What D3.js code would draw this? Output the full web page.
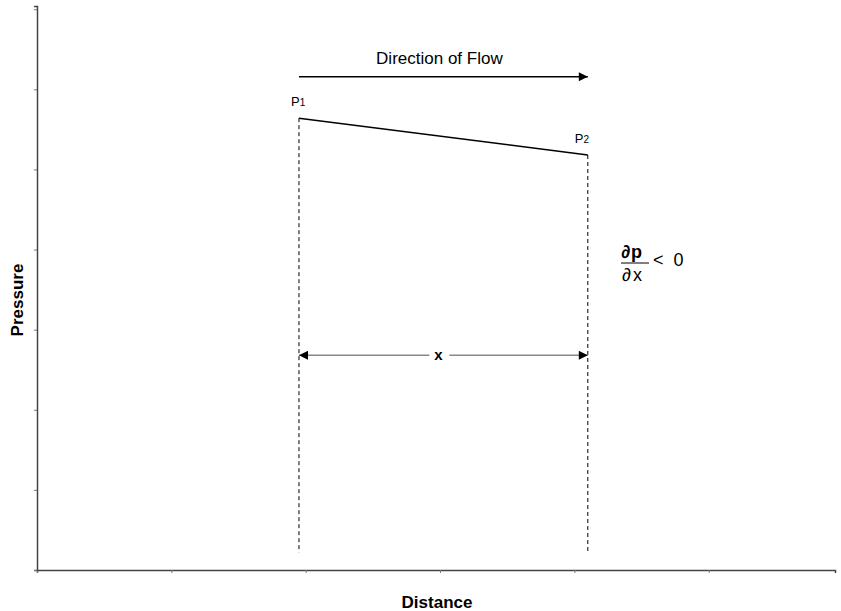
<!DOCTYPE html>
<html><head><meta charset="utf-8">
<script src="https://cdn.jsdelivr.net/npm/d3@7"></script>
<style>
body{margin:0;background:#fff;}
text{font-family:Arial,"Liberation Sans",sans-serif;}
</style></head>
<body>
<svg id="c" width="841" height="611"></svg>
<script>
// Data
const pointLabels = ["P1", "P2"];
const distance = [1.95, 4.10];      // x positions of P1, P2
const pressure = [5.64, 5.18];      // pressure at P1, P2
const flowLevel = 6.17;             // level of "Direction of Flow" arrow
const spanLevel = 2.68;             // level of "x" double arrow
const dashBottom = 0.22;            // bottom of dashed guides
const xTicks = [0, 1, 2, 3, 4, 5];
const yTicks = [0, 1, 2, 3, 4, 5, 6, 7];

const svg = d3.select("#c");
const x = d3.scaleLinear().domain([0, 5.94]).range([37, 835]);
const y = d3.scaleLinear().domain([0, 7.04]).range([570, 6]);

const defs = svg.append("defs");
defs.append("marker").attr("id","ah").attr("viewBox","0 0 10 10")
  .attr("refX",10).attr("refY",5).attr("markerWidth",11).attr("markerHeight",9)
  .attr("markerUnits","userSpaceOnUse").attr("orient","auto-start-reverse")
  .append("path").attr("d","M0,0L10,5L0,10Z").attr("fill","#000");

// axes
const xa = svg.append("g").attr("transform",`translate(0,${y(0)})`)
  .call(d3.axisBottom(x).tickValues(xTicks).tickSize(3).tickFormat(""));
const ya = svg.append("g").attr("transform",`translate(${x(0)},0)`)
  .call(d3.axisLeft(y).tickValues(yTicks).tickSize(3).tickFormat(""));
[xa, ya].forEach(g => {
  g.select(".domain").attr("stroke","#444").attr("stroke-width",1.5);
  g.selectAll(".tick line").attr("stroke","#777");
});

// dashed guides
distance.forEach((d,i) => {
  svg.append("line").attr("x1",x(d)).attr("x2",x(d))
    .attr("y1",y(pressure[i])).attr("y2",y(dashBottom))
    .attr("stroke","#000").attr("stroke-width",1).attr("stroke-dasharray","4,3");
});

// pressure line
svg.append("path")
  .datum(distance.map((d,i)=>[d, pressure[i]]))
  .attr("d", d3.line().x(d=>x(d[0])).y(d=>y(d[1])))
  .attr("fill","none").attr("stroke","#000").attr("stroke-width",1.5);

// point labels
pointLabels.forEach((lab,i) => {
  const t = svg.append("text")
    .attr("x", i===0 ? x(distance[i]) - 8 : x(distance[i]) - 13)
    .attr("y", y(pressure[i]) - 12)
    .attr("font-size",13).attr("fill","#000");
  t.append("tspan").text(lab[0]);
  t.append("tspan").attr("font-size",10).text(lab.slice(1));
});

// direction of flow arrow
svg.append("line").attr("x1",x(distance[0])).attr("x2",x(distance[1]))
  .attr("y1",y(flowLevel)+1).attr("y2",y(flowLevel)+1)
  .attr("stroke","#000").attr("stroke-width",1.5).attr("marker-end","url(#ah)");
svg.append("text").attr("x",(x(distance[0])+x(distance[1]))/2 - 4).attr("y",y(flowLevel)-12)
  .attr("text-anchor","middle").attr("font-size",17).text("Direction of Flow");

// x span arrows
const mid = (x(distance[0])+x(distance[1]))/2;
svg.append("line").attr("x1",mid-14).attr("x2",x(distance[0]))
  .attr("y1",y(spanLevel)).attr("y2",y(spanLevel))
  .attr("stroke","#888").attr("stroke-width",1.5).attr("marker-end","url(#ah)");
svg.append("line").attr("x1",mid+6).attr("x2",x(distance[1]))
  .attr("y1",y(spanLevel)).attr("y2",y(spanLevel))
  .attr("stroke","#888").attr("stroke-width",1.5).attr("marker-end","url(#ah)");
svg.append("text").attr("x",mid-5).attr("y",y(spanLevel)+5)
  .attr("text-anchor","middle").attr("font-size",15).attr("font-weight","bold").text("x");

// fraction
const fx = 621;
svg.append("text").attr("x",fx).attr("y",258).attr("font-size",18).attr("font-weight","bold").attr("letter-spacing",1).text("\u2202p");
svg.append("line").attr("x1",fx).attr("x2",fx+28).attr("y1",263).attr("y2",263).attr("stroke","#000").attr("stroke-width",1);
svg.append("text").attr("x",fx+1).attr("y",281).attr("font-size",18).attr("letter-spacing",2).text("\u2202x");
svg.append("text").attr("x",fx+32).attr("y",266).attr("font-size",18).text("<\u00a0\u00a00");

// axis titles
svg.append("text").attr("transform","translate(23,300) rotate(-90)")
  .attr("text-anchor","middle").attr("font-size",17).attr("font-weight","bold").text("Pressure");
svg.append("text").attr("x",437).attr("y",608)
  .attr("text-anchor","middle").attr("font-size",17).attr("font-weight","bold").text("Distance");
</script>
</body></html>
